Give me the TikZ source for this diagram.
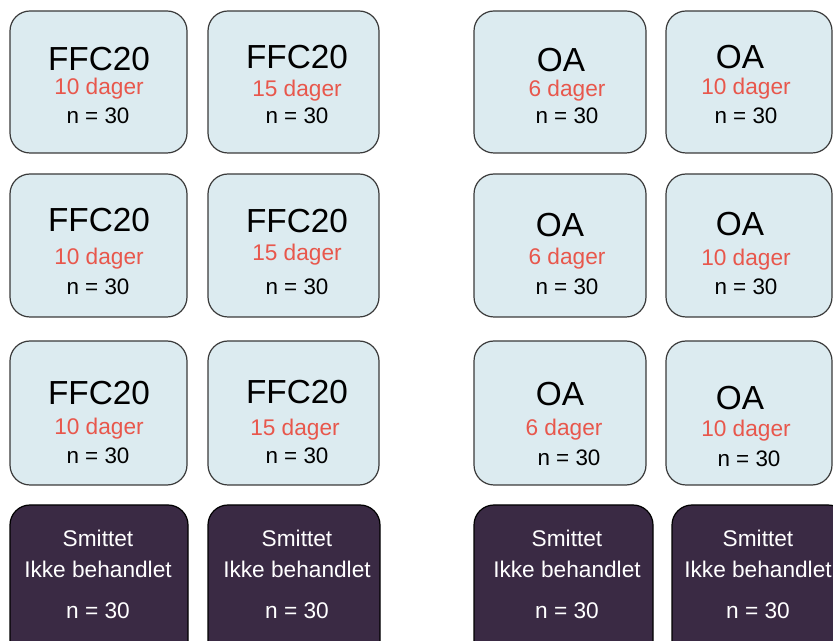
\documentclass[tikz,border=0pt]{standalone}
\usepackage{fontspec}
\setmainfont{Liberation Sans}
\definecolor{boxblue}{HTML}{DCEBF0}
\definecolor{boxdark}{HTML}{3A2A44}
\definecolor{daysred}{HTML}{E8574C}
\definecolor{edgegray}{HTML}{3A3A3A}
\tikzset{
  bluebox/.style={draw=edgegray, fill=boxblue, line width=0.9pt, rounded corners=15pt, inner sep=0pt, outer sep=0pt},
  darkbox/.style={draw=black, fill=boxdark, line width=0.9pt, rounded corners=15pt, inner sep=0pt, outer sep=0pt},
  lbl/.style={inner sep=0pt, text depth=0pt, anchor=center},
  title/.style={lbl, text height=17.9pt, font=\fontsize{25}{25}\selectfont, text=black},
  days/.style={lbl, text height=12.2pt, font=\fontsize{17}{17}\selectfont, text=daysred},
  count/.style={lbl, text height=12pt, font=\fontsize{16.8}{16.8}\selectfont, text=black},
  wtxt/.style={lbl, text height=12.2pt, font=\fontsize{17}{17}\selectfont, text=white},
}
\newcommand{\mkbox}[6]{% style, name, x1, y1, x2, y2
  \node[#1, minimum width={(#5-#3)*0.75pt}, minimum height={(#6-#4)*0.75pt}] (#2) at ({(#3+#5)/2},{(#4+#6)/2}) {};}
\begin{document}
\begin{tikzpicture}[x=0.75pt,y=-0.75pt]
\useasboundingbox (0,0) rectangle (833,641);
\clip (0,0) rectangle (833,641);
% row 1
\mkbox{bluebox}{a1}{10}{11}{187}{153}
\mkbox{bluebox}{b1}{208}{11}{379}{153}
\mkbox{bluebox}{c1}{474}{11}{646}{153}
\mkbox{bluebox}{d1}{666}{11}{832}{153}
% row 2
\mkbox{bluebox}{a2}{10}{174}{187}{317}
\mkbox{bluebox}{b2}{208}{174}{379}{317}
\mkbox{bluebox}{c2}{474}{174}{646}{317}
\mkbox{bluebox}{d2}{666}{174}{832}{317}
% row 3
\mkbox{bluebox}{a3}{10}{341}{187}{485}
\mkbox{bluebox}{b3}{208}{341}{379}{485}
\mkbox{bluebox}{c3}{474}{341}{646}{485}
\mkbox{bluebox}{d3}{666}{341}{832}{485}
% row 4
\mkbox{darkbox}{a4}{10}{505}{188}{665}
\mkbox{darkbox}{b4}{208}{505}{380}{665}
\mkbox{darkbox}{c4}{474}{505}{653}{665}
\mkbox{darkbox}{d4}{672}{505}{848}{665}
% texts row 1
\node[title] (a1t) at (99,59) {FFC20};
\node[days]  (a1d) at (99,86) {10 dager};
\node[count] (a1n) at (98,116) {n = 30};
\node[title] (b1t) at (297,57) {FFC20};
\node[days]  (b1d) at (297,88) {15 dager};
\node[count] (b1n) at (297,116) {n = 30};
\node[title] (c1t) at (561,60) {OA};
\node[days]  (c1d) at (567,88) {6 dager};
\node[count] (c1n) at (567,116) {n = 30};
\node[title] (d1t) at (740,57) {OA};
\node[days]  (d1d) at (746,86) {10 dager};
\node[count] (d1n) at (746,116) {n = 30};
% texts row 2
\node[title] (a2t) at (99,220) {FFC20};
\node[days]  (a2d) at (99,256) {10 dager};
\node[count] (a2n) at (98,287) {n = 30};
\node[title] (b2t) at (297,221) {FFC20};
\node[days]  (b2d) at (297,252) {15 dager};
\node[count] (b2n) at (297,287) {n = 30};
\node[title] (c2t) at (560,225) {OA};
\node[days]  (c2d) at (567,256) {6 dager};
\node[count] (c2n) at (567,287) {n = 30};
\node[title] (d2t) at (740,224) {OA};
\node[days]  (d2d) at (746,257) {10 dager};
\node[count] (d2n) at (746,287) {n = 30};
% texts row 3
\node[title] (a3t) at (99,393) {FFC20};
\node[days]  (a3d) at (99,426) {10 dager};
\node[count] (a3n) at (98,456) {n = 30};
\node[title] (b3t) at (297,392) {FFC20};
\node[days]  (b3d) at (295,427) {15 dager};
\node[count] (b3n) at (297,456) {n = 30};
\node[title] (c3t) at (560,394) {OA};
\node[days]  (c3d) at (564,427) {6 dager};
\node[count] (c3n) at (569,458) {n = 30};
\node[title] (d3t) at (740,398) {OA};
\node[days]  (d3d) at (746,428) {10 dager};
\node[count] (d3n) at (749,459) {n = 30};
% texts row 4
\node[wtxt] (a4s) at (98,538) {Smittet};
\node[wtxt] (a4i) at (98,569) {Ikke behandlet};
\node[wtxt] (a4n) at (98,610) {n = 30};
\node[wtxt] (b4s) at (297,538) {Smittet};
\node[wtxt] (b4i) at (297,569) {Ikke behandlet};
\node[wtxt] (b4n) at (297,610) {n = 30};
\node[wtxt] (c4s) at (567,538) {Smittet};
\node[wtxt] (c4i) at (567,569) {Ikke behandlet};
\node[wtxt] (c4n) at (567,610) {n = 30};
\node[wtxt] (d4s) at (758,538) {Smittet};
\node[wtxt] (d4i) at (758,569) {Ikke behandlet};
\node[wtxt] (d4n) at (758,610) {n = 30};
\end{tikzpicture}
\end{document}
